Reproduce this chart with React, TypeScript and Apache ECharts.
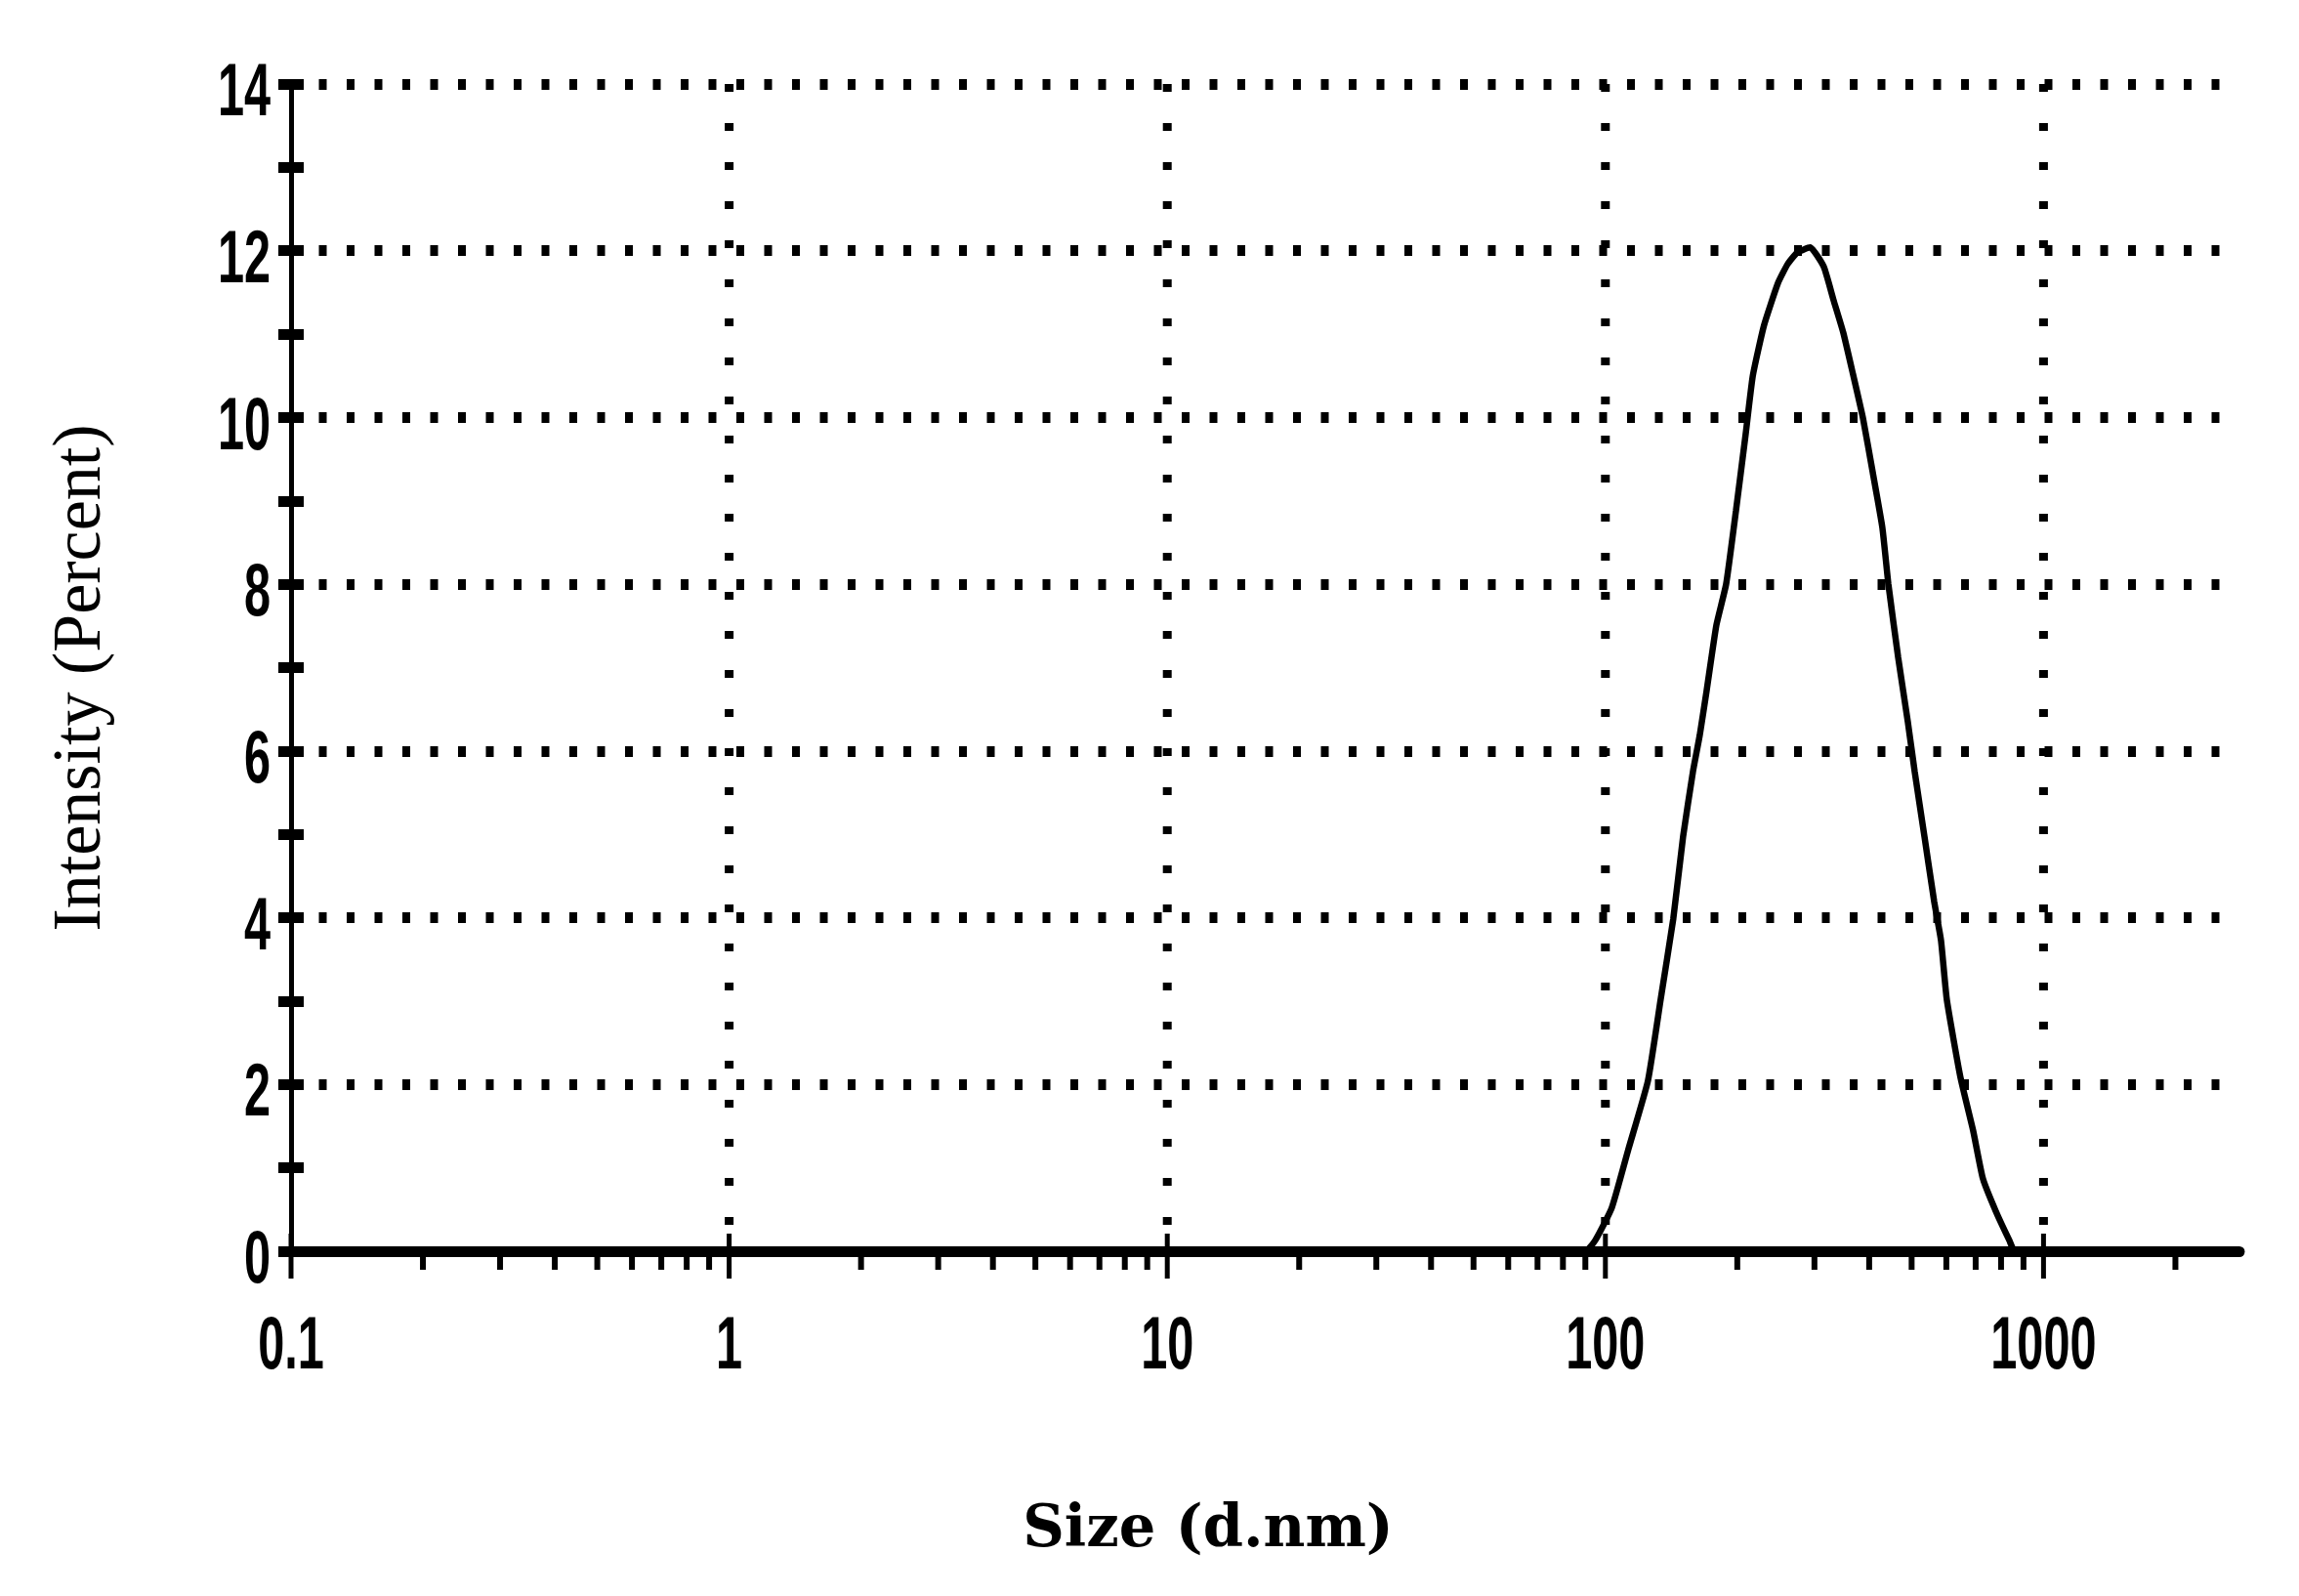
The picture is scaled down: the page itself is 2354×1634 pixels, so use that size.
import React, { useEffect, useRef } from "react";
import * as echarts from "echarts";

// Size (d.nm) and Intensity (%)
const sizes = [0.1, 90, 94.8, 103.4, 112.8, 125, 133.7, 142.9, 150.4, 158.4, 164.2, 170.2, 179.2, 188.6, 198.6, 209, 217, 230, 247.6, 260.6, 274.3, 293.2, 315, 331.6, 349, 367.4, 386.9, 407.3, 428.7, 442.5, 465.9, 490.4, 508.2, 535, 563, 583.4, 601.5, 646, 690.6, 727.2, 778, 835.6, 861, 2800];
const intensity = [0, 0, 0.13, 0.52, 1.22, 2.04, 3.02, 3.99, 4.97, 5.75, 6.19, 6.72, 7.51, 8.0, 8.88, 9.8, 10.5, 11.1, 11.61, 11.84, 11.98, 12.04, 11.81, 11.41, 11.02, 10.52, 10.0, 9.35, 8.68, 8.0, 7.12, 6.34, 5.75, 4.97, 4.19, 3.73, 3.02, 2.09, 1.45, 0.87, 0.48, 0.13, 0, 0];

const xTickValues = [0.1, 1, 10, 100, 1000];
const xTickLabels = ["0.1", "1", "10", "100", "1000"];
const yTickValues = [0, 2, 4, 6, 8, 10, 12, 14];
const decadesWithGrid = [1, 10, 100, 1000];
const minorMultipliers = [2, 3, 4, 5, 6, 7, 8, 9];
const minorDecades = [0.1, 1, 10, 100];
const extraMinor = [2000];

const X_MIN = 0.1;
const X_MAX = 2800;
const Y_MIN = 0;
const Y_MAX = 14;

const xTitle = "Size (d.nm)";
const yTitle = "Intensity (Percent)";

const LABEL_FONT = "'Liberation Sans', Arial, sans-serif";
const LABEL_SIZE = 76;
const LABEL_SCALE_X = 0.64;

export default function App() {
  const ref = useRef<HTMLDivElement>(null);

  useEffect(() => {
    if (!ref.current) return;
    const chart = echarts.init(ref.current, undefined, { renderer: "svg" });

    const tickData: number[][] = [];
    tickData.push([0.1, 1]);
    decadesWithGrid.forEach((d) => tickData.push([d, 2]));
    minorDecades.forEach((d) => minorMultipliers.forEach((m) => tickData.push([+(d * m).toPrecision(6), 0])));
    extraMinor.forEach((v) => tickData.push([v, 0]));

    const labelStyle = (text: string, align: string) => ({
      text,
      fontFamily: LABEL_FONT,
      fontWeight: "bold",
      fontSize: LABEL_SIZE,
      fill: "#000",
      align,
      verticalAlign: "middle",
      textAlign: align,
      textVerticalAlign: "middle",
    });

    const option: any = {
      animation: false,
      backgroundColor: "#fff",
      grid: { left: 298, right: 61, top: 86, bottom: 353, containLabel: false },
      xAxis: {
        type: "log",
        logBase: 10,
        min: X_MIN,
        max: X_MAX,
        axisLine: { show: true, lineStyle: { color: "#000", width: 11 } },
        axisTick: { show: false },
        splitLine: { show: false },
        minorTick: { show: false },
        axisLabel: { show: false },
      },
      yAxis: [
        {
          type: "value",
          min: Y_MIN,
          max: Y_MAX,
          interval: 2,
          axisLine: { show: true, lineStyle: { color: "#000", width: 5 } },
          axisTick: { show: true, inside: false, length: 13, lineStyle: { color: "#000", width: 11 } },
          minorTick: { show: true, splitNumber: 2, length: 13, lineStyle: { color: "#000", width: 11 } },
          splitLine: { show: true, lineStyle: { color: "#000", width: 11, type: [8, 20.5] } },
          axisLabel: { show: false },
        },
        {
          type: "value",
          min: Y_MIN,
          max: Y_MAX,
          interval: 2,
          position: "left",
          axisLine: { show: false },
          axisTick: { show: true, inside: true, length: 13, lineStyle: { color: "#000", width: 11 } },
          minorTick: { show: true, splitNumber: 2, length: 13, lineStyle: { color: "#000", width: 11 } },
          splitLine: { show: false },
          axisLabel: { show: false },
        },
      ],
      series: [
        {
          type: "custom",
          silent: true,
          xAxisIndex: 0,
          yAxisIndex: 0,
          clip: false,
          z: 1,
          data: tickData,
          renderItem: (params: any, api: any) => {
            const v = api.value(0);
            const kind = api.value(1);
            const p = api.coord([v, Y_MIN]);
            const top = api.coord([v, Y_MAX]);
            const children: any[] = [];
            if (kind === 2) {
              children.push({
                type: "line",
                shape: { x1: p[0], y1: top[1], x2: p[0], y2: p[1] },
                style: { stroke: "#000", lineWidth: 9, lineDash: [8, 32], fill: null },
              });
            }
            if (kind >= 1) {
              children.push({
                type: "line",
                shape: { x1: p[0], y1: p[1] - 18, x2: p[0], y2: p[1] + 28 },
                style: { stroke: "#000", lineWidth: 5 },
              });
            } else {
              children.push({
                type: "line",
                shape: { x1: p[0], y1: p[1], x2: p[0], y2: p[1] + 19 },
                style: { stroke: "#000", lineWidth: 6 },
              });
            }
            return { type: "group", children };
          },
        },
        {
          type: "custom",
          name: "yLabels",
          silent: true,
          xAxisIndex: 0,
          yAxisIndex: 0,
          clip: false,
          z: 10,
          data: yTickValues.map((v) => [X_MIN, v]),
          renderItem: (params: any, api: any) => {
            const v = api.value(1);
            const p = api.coord([X_MIN, v]);
            return {
              type: "text",
              x: p[0] - 21,
              y: p[1] + 6,
              scaleX: LABEL_SCALE_X,
              scaleY: 1,
              style: labelStyle(String(v), "right"),
            };
          },
        },
        {
          type: "custom",
          name: "xLabels",
          silent: true,
          xAxisIndex: 0,
          yAxisIndex: 0,
          clip: false,
          z: 10,
          data: xTickValues.map((v) => [v, Y_MIN]),
          renderItem: (params: any, api: any) => {
            const v = api.value(0);
            const p = api.coord([v, Y_MIN]);
            return {
              type: "text",
              x: p[0],
              y: p[1] + 94,
              scaleX: LABEL_SCALE_X,
              scaleY: 1,
              style: labelStyle(xTickLabels[params.dataIndex], "center"),
            };
          },
        },
        {
          type: "line",
          xAxisIndex: 0,
          yAxisIndex: 0,
          data: sizes.map((s, i) => [s, intensity[i]]),
          showSymbol: false,
          symbol: "none",
          smooth: 0.15,
          clip: false,
          z: 5,
          lineStyle: { color: "#000", width: 6.5 },
        },
      ],
      graphic: [
        {
          type: "text",
          x: 78,
          y: 694,
          rotation: Math.PI / 2,
          style: {
            text: yTitle,
            fontFamily: "'Liberation Serif', 'DejaVu Serif', serif",
            fontSize: 70,
            fill: "#000",
            textAlign: "center",
            textVerticalAlign: "middle",
          },
        },
        {
          type: "text",
          x: 1237,
          y: 1562,
          style: {
            text: xTitle,
            fontFamily: "'DejaVu Serif', 'Liberation Serif', serif",
            fontWeight: "bold",
            fontSize: 59,
            fill: "#000",
            textAlign: "center",
            textVerticalAlign: "middle",
          },
        },
      ],
    };

    chart.setOption(option);
    return () => chart.dispose();
  }, []);

  return (
    <div
      ref={ref}
      style={{ position: "fixed", left: 0, top: 0, width: 2354, height: 1634, background: "#fff" }}
    />
  );
}
